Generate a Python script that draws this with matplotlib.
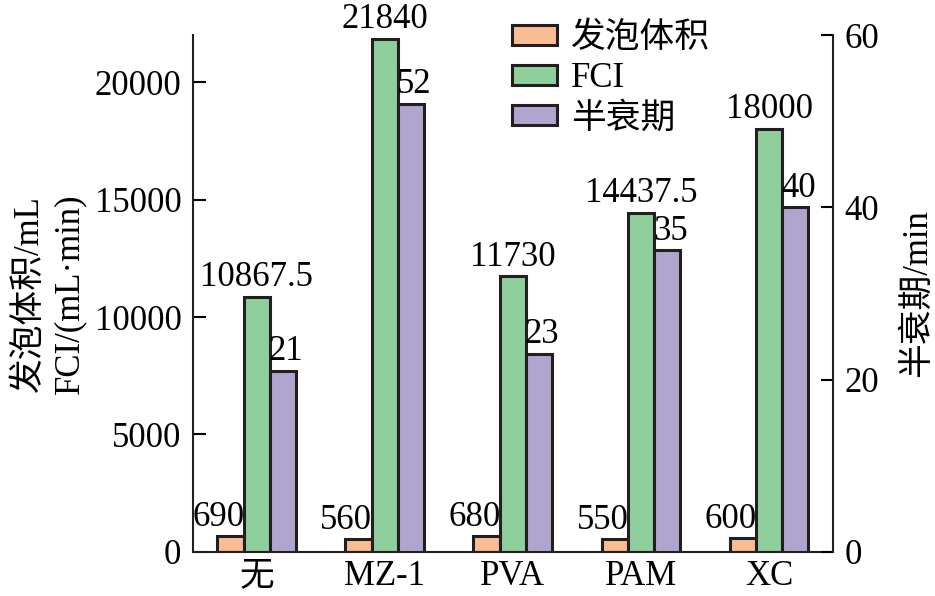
import matplotlib.pyplot as plt
import numpy as np

plt.rcParams['font.family'] = ['Liberation Serif', 'Noto Sans CJK SC']
plt.rcParams['font.size'] = 25

categories = ['无', 'MZ-1', 'PVA', 'PAM', 'XC']
foam = [690, 560, 680, 550, 600]
fci = [10867.5, 21840, 11730, 14437.5, 18000]
fci_labels = ['10867.5', '21840', '11730', '14437.5', '18000']
half_life = [21, 52, 23, 35, 40]

c_foam = '#F7BD93'
c_fci = '#8ECF9C'
c_half = '#B0A5CE'
edge = '#231F20'

fig = plt.figure(figsize=(9.35, 5.96), dpi=100)
ax = fig.add_axes([0.206, 0.074, 0.685, 0.867])
ax2 = ax.twinx()

x = np.arange(len(categories))
w = 0.205
lw = 2.2

b1 = ax.bar(x - w, foam, w, color=c_foam, edgecolor=edge, linewidth=lw, label='发泡体积')
b2 = ax.bar(x, fci, w, color=c_fci, edgecolor=edge, linewidth=lw, label='FCI')
b3 = ax2.bar(x + w, half_life, w, color=c_half, edgecolor=edge, linewidth=lw, label='半衰期')

for i in range(len(x)):
    ax.text(x[i] - w / 2 + 0.005, foam[i] + 80, str(foam[i]), ha='right', va='bottom')
    ax.text(x[i], fci[i] + 120, fci_labels[i], ha='center', va='bottom')
    ax2.text(x[i] + w / 2 - 0.01, half_life[i] + 0.3, str(half_life[i]), ha='left', va='bottom')

ax.set_xlim(-0.5, 4.5)
ax.set_ylim(0, 22000)
ax2.set_ylim(0, 60)
ax.set_yticks([0, 5000, 10000, 15000, 20000])
ax2.set_yticks([0, 20, 40, 60])
ax.set_xticks(x)
ax.set_xticklabels(categories)

for a in (ax, ax2):
    a.spines['top'].set_visible(False)
    for s in a.spines.values():
        s.set_linewidth(1.5)
        s.set_color(edge)
ax.spines['right'].set_visible(False)
ax2.spines['left'].set_visible(False)
ax2.spines['bottom'].set_visible(False)

ax.tick_params(axis='y', direction='in', length=9, width=1.5, pad=8)
ax.tick_params(axis='x', length=0, pad=6)
ax2.tick_params(axis='y', direction='in', length=9, width=1.5, pad=8)

ax.set_ylabel('发泡体积/mL\nFCI/(mL·min)', labelpad=6, linespacing=1.3)
ax2.set_ylabel('半衰期/min', labelpad=16)

handles = [b1, b2, b3]
ax.legend(handles, [h.get_label() for h in handles], loc='upper left',
          bbox_to_anchor=(0.45, 1.085), frameon=False, handlelength=1.3,
          handleheight=0.5, handletextpad=0.4, labelspacing=0.2)

fig.savefig('out.png', dpi=100)
